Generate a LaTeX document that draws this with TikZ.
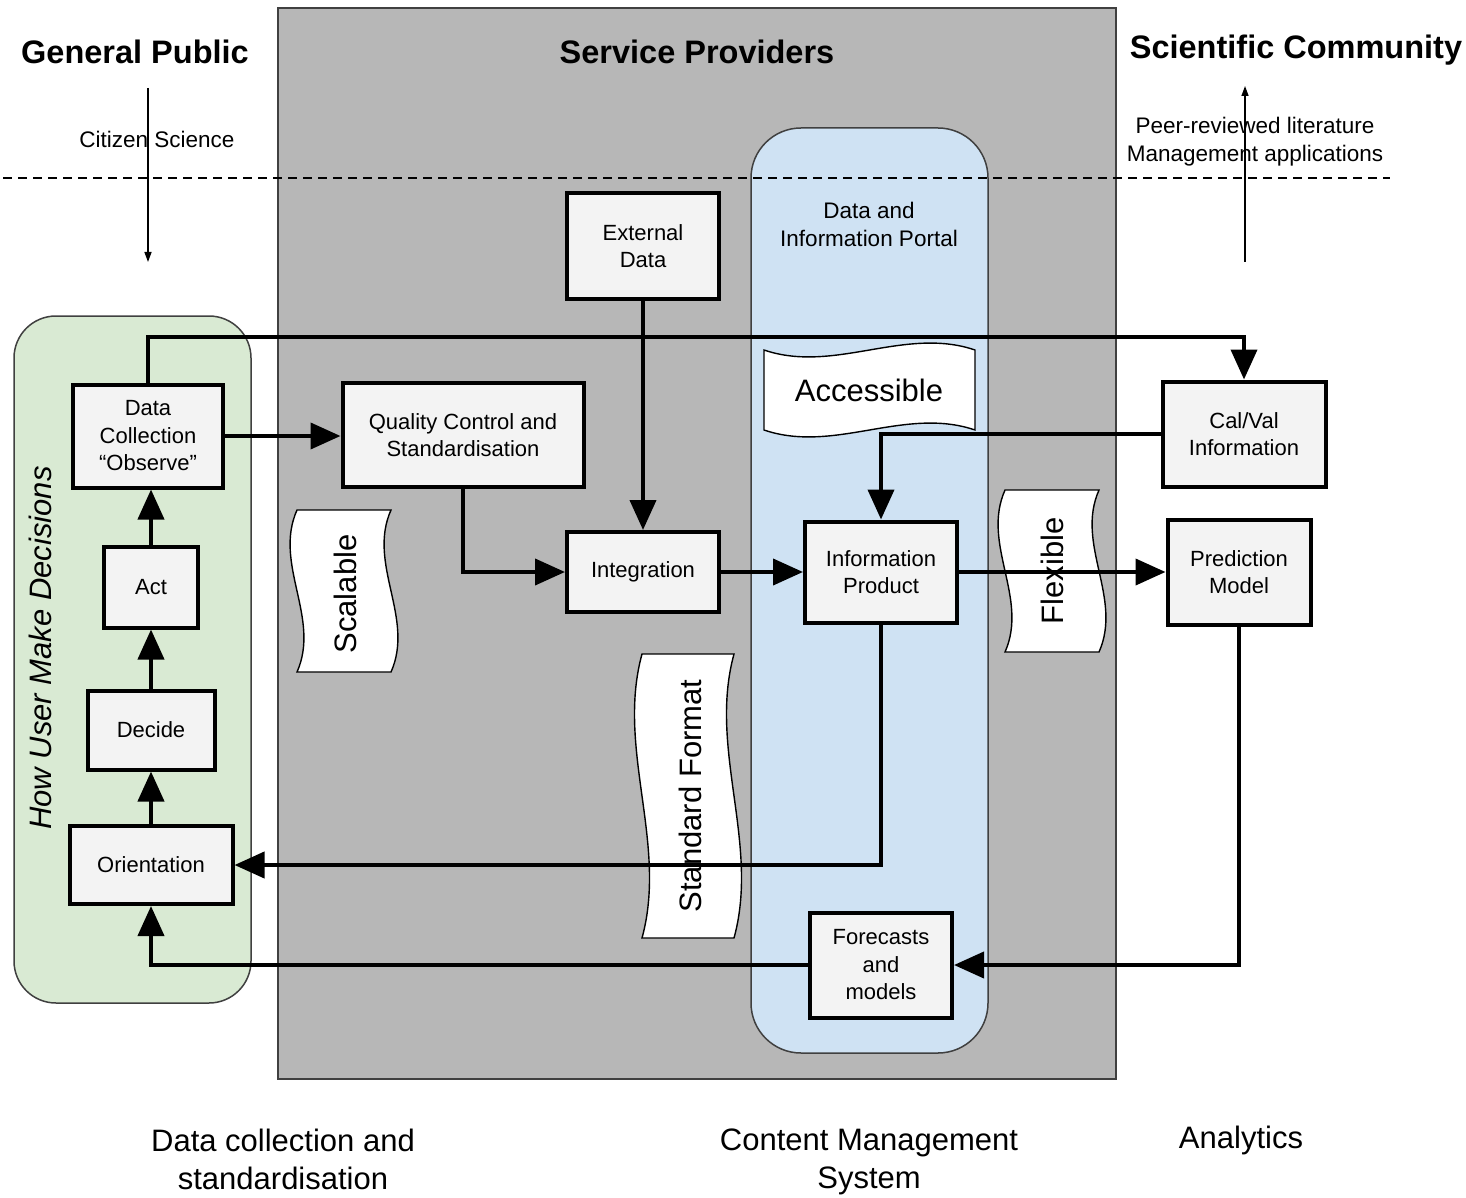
\documentclass[tikz,border=0pt]{standalone}
\usepackage{fontspec}
\setmainfont{Liberation Sans}
\usetikzlibrary{arrows.meta}
\definecolor{provgray}{HTML}{B7B7B7}
\definecolor{usergreen}{HTML}{D9EAD3}
\definecolor{portalblue}{HTML}{CFE2F3}
\definecolor{boxfill}{HTML}{F3F3F3}
\definecolor{edgegray}{HTML}{404040}
\newcommand{\tapebanner}[5]{%
 \draw[bannerline] (#1-#3,#2-#4) .. controls (#1-#3/3,#2-#4+#5) and (#1+#3/3,#2-#4-#5) .. (#1+#3,#2-#4)
   -- (#1+#3,#2+#4) .. controls (#1+#3/3,#2+#4-#5) and (#1-#3/3,#2+#4+#5) .. (#1-#3,#2+#4) -- cycle;}
\tikzset{
  container/.style={draw=edgegray, line width=1.5pt},
  bannerline/.style={draw=black, fill=white, line width=1.4pt},
  bannertext/.style={font=\fontsize{31}{36}\selectfont, inner sep=0pt},
  title/.style={font=\fontsize{32.5}{36}\selectfont\bfseries, inner sep=0pt},
  label/.style={font=\fontsize{22.5}{28}\selectfont, align=center, inner sep=0pt},
  biglabel/.style={font=\fontsize{31}{38}\selectfont, align=center, inner sep=0pt},
  stepbox/.style={draw=black, fill=boxfill, line width=4pt, inner sep=0pt, align=center,
     font=\fontsize{22}{27.5}\selectfont},
  conn/.style={draw=black, line width=4pt, -{Triangle[length=30pt,width=26pt]}},
  thinarrow/.style={draw=black, line width=1.4pt, -{Triangle[length=10pt,width=7pt]}},
}
\begin{document}
\begin{tikzpicture}[x=1pt,y=-1pt]
\useasboundingbox (0,0) rectangle (1466,1198);
% containers
\draw[container, fill=provgray] (278,8) rectangle (1116,1079);
\draw[container, fill=usergreen, rounded corners=42pt] (14,316) rectangle (251,1003);
\draw[container, fill=portalblue, rounded corners=50pt] (751,128) rectangle (988,1053);
% banners
\tapebanner{869.5}{390}{105.5}{40}{24}
\node[bannertext] (accessible) at (869,390) {Accessible};
\begin{scope}[shift={(344,591)}, rotate=90]
\tapebanner{0}{0}{81}{47}{24}
\end{scope}
\node[bannertext, rotate=90] (scalable) at (345,594) {Scalable};
\begin{scope}[shift={(1052,571)}, rotate=90]
\tapebanner{0}{0}{81}{47}{24}
\end{scope}
\node[bannertext, rotate=90] (flexible) at (1052,571) {Flexible};
\begin{scope}[shift={(688,796)}, rotate=90]
\tapebanner{0}{0}{142}{46}{26}
\end{scope}
\node[bannertext, rotate=90] (stdformat) at (690,796) {Standard Format};
% dashed separator
\coordinate (dashL) at (3,178);
\coordinate (dashR) at (1390,178);
\draw[line width=1.3pt, dash pattern=on 9pt off 6pt] (dashL) -- (dashR);
% titles and labels
\node[title] (tgp) at (135,52) {General Public};
\node[title] (tsp) at (697,52) {Service Providers};
\node[title] (tsc) at (1296,50) {Scientific Community};
\node[label] (cs) at (157,139) {Citizen Science};
\node[label] (peer) at (1255,142) {Peer-reviewed literature\\Management applications};
\node[label] (portal) at (869,224) {Data and\\Information Portal};
\node[font=\fontsize{31}{36}\selectfont\itshape, rotate=90, inner sep=0pt] (howuser) at (40,648) {How User Make Decisions};
\node[biglabel] (bl1) at (283,1159) {Data collection and\\standardisation};
\node[biglabel] (bl2) at (869,1162) {Content Management\\System};
\node[biglabel] (bl3) at (1241,1140) {Analytics};
% thin arrows
\coordinate (csA) at (148,88);
\coordinate (csB) at (148,262);
\draw[thinarrow] (csA) -- (csB);
\coordinate (scA) at (1245,262);
\coordinate (scB) at (1245,86);
\draw[thinarrow] (scA) -- (scB);
% boxes
\node[stepbox, minimum width=152pt, minimum height=105pt] (ext) at (643,246) {External\\Data};
\node[stepbox, minimum width=150pt, minimum height=103pt] (dc) at (148,436) {Data\\Collection\\“Observe”};
\node[stepbox, minimum width=94pt, minimum height=81pt] (act) at (151,587) {Act};
\node[stepbox, minimum width=127pt, minimum height=79pt] (dec) at (151,730) {Decide};
\node[stepbox, minimum width=163pt, minimum height=78pt] (ori) at (151,865) {Orientation};
\node[stepbox, minimum width=241pt, minimum height=104pt] (qc) at (463,435) {Quality Control and\\Standardisation};
\node[stepbox, minimum width=152pt, minimum height=80pt] (int) at (643,572) {Integration};
\node[stepbox, minimum width=152pt, minimum height=101pt] (ip) at (881,572) {Information\\Product};
\node[stepbox, minimum width=163pt, minimum height=105pt] (cv) at (1244,434) {Cal/Val\\Information};
\node[stepbox, minimum width=143pt, minimum height=105pt] (pm) at (1239,572) {Prediction\\Model};
\node[stepbox, minimum width=142pt, minimum height=105pt] (fc) at (881,965) {Forecasts\\and\\models};
% connectors
\draw[conn] (dc.north) -- ++(0,-46) -| (cv.north);
\draw[conn] (dc.east) -- (dc.east -| qc.west);
\draw[conn] (ext.south) -- (int.north);
\draw[conn] (qc.south) |- (int.west);
\draw[conn] (int.east) -- (ip.west);
\draw[conn] (cv.west) -| (ip.north);
\draw[conn] (ip.east) -- (pm.west);
\draw[conn] (ip.south) |- (ori.east);
\draw[conn] (pm.south) |- (fc.east);
\draw[conn] (fc.west) -| (ori.south);
\draw[conn] (ori.north) -- (ori.north |- dec.south);
\draw[conn] (dec.north) -- (dec.north |- act.south);
\draw[conn] (act.north) -- (act.north |- dc.south);
\end{tikzpicture}
\end{document}
